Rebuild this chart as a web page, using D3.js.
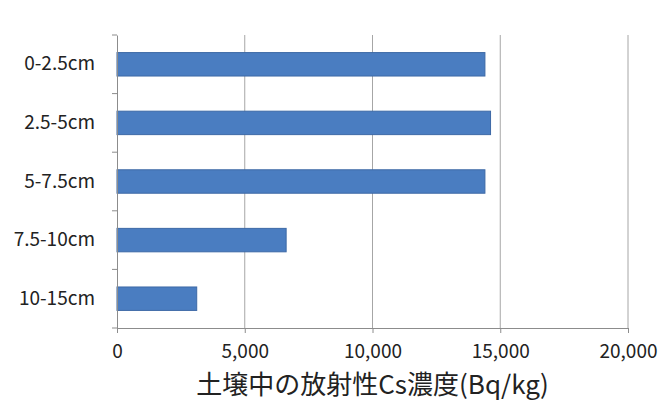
<!DOCTYPE html>
<html>
<head>
<meta charset="utf-8">
<script src="https://cdn.jsdelivr.net/npm/d3@7"></script>
<style>
  body { margin: 0; background: #fff; }
  text { font-family: "Noto Sans CJK JP", "Noto Sans", sans-serif; fill: #222; }
</style>
</head>
<body>
<svg id="graf"></svg>
<script>
let categorias = ['0-2.5cm', '2.5-5cm', '5-7.5cm', '7.5-10cm', '10-15cm']
let valores = [14400, 14620, 14400, 6620, 3120]
let ticksX = [0, 5000, 10000, 15000, 20000]
let tituloX = '土壌中の放射性Cs濃度(Bq/kg)'

function graficar() {
  let w = 663
  let h = 404
  let m = { top: 35, right: 35, bottom: 76, left: 117 }

  let svg = d3.select('#graf')
              .attr('width', w)
              .attr('height', h)

  let x = d3.scaleLinear()
            .domain([0, 20000])
            .range([m.left, w - m.right])

  let y = d3.scaleBand()
            .domain(categorias)
            .range([m.top, h - m.bottom])
            .paddingInner(0.6)
            .paddingOuter(0.3)

  // lineas de cuadricula
  svg.selectAll('line.grid')
     .data(ticksX.slice(1))
     .enter()
     .append('line')
     .attr('class', 'grid')
     .attr('x1', d => x(d))
     .attr('x2', d => x(d))
     .attr('y1', m.top)
     .attr('y2', h - m.bottom)
     .style('stroke', '#a6a6a6')
     .style('stroke-width', 1)

  // barras
  svg.selectAll('rect')
     .data(valores)
     .enter()
     .append('rect')
     .attr('x', x(0))
     .attr('y', (d, i) => y(categorias[i]))
     .attr('width', d => x(d) - x(0))
     .attr('height', y.bandwidth())
     .style('fill', '#4a7dc1')
     .style('stroke', '#3d69a6')
     .style('stroke-width', 1)

  // eje x
  let ejeX = svg.append('g')
     .attr('transform', 'translate(0,' + (h - m.bottom) + ')')
     .call(d3.axisBottom(x).tickValues(ticksX).tickSize(5).tickPadding(12)
             .tickFormat(d3.format(',')))
  ejeX.select('.domain').style('stroke', '#8c8c8c')
  ejeX.selectAll('.tick line').style('stroke', '#8c8c8c')
  ejeX.selectAll('text').style('font-size', '19px').style('fill', '#222')

  // eje y
  let ejeY = svg.append('g')
     .attr('transform', 'translate(' + m.left + ',0)')
     .call(d3.axisLeft(y).tickSize(0).tickPadding(22))
  ejeY.select('.domain').style('stroke', '#8c8c8c')
  ejeY.selectAll('text').style('font-size', '19px').style('fill', '#222')

  // marcas entre categorias
  let paso = y.step()
  let bordes = d3.range(categorias.length + 1).map(i => m.top + i * paso)
  svg.selectAll('line.marca')
     .data(bordes)
     .enter()
     .append('line')
     .attr('class', 'marca')
     .attr('x1', m.left - 5)
     .attr('x2', m.left)
     .attr('y1', d => d)
     .attr('y2', d => d)
     .style('stroke', '#8c8c8c')

  svg.append('text')
     .text(tituloX)
     .attr('x', x(10000))
     .attr('y', h - 10)
     .attr('text-anchor', 'middle')
     .style('font-size', '26px')
}

graficar()
</script>
</body>
</html>
